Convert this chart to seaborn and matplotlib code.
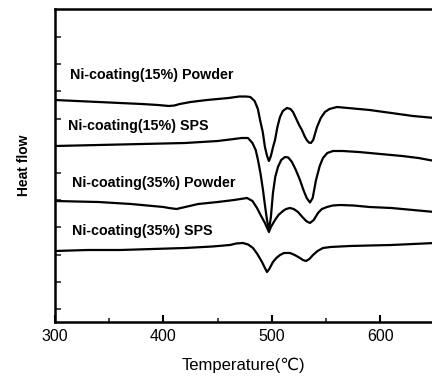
import numpy as np
import pandas as pd
import matplotlib
matplotlib.use("Agg")
import matplotlib.pyplot as plt
import seaborn as sns

# ---- data (heat flow in arbitrary units) ----
t_p15 = [300, 320, 340, 360, 380, 395, 400, 405, 410, 415, 425, 440, 460, 470, 476, 480,
         484, 487, 489, 491.5, 493.5, 495.5, 497.2, 499, 501, 502.8, 505, 507.4, 510, 513.8,
         517, 519.4, 522, 525, 527.6, 530, 532, 534, 535.9, 538, 541.5, 545, 548.8, 553,
         559.9, 570, 590, 610, 630, 650]
h_p15 = [222, 221, 220, 219, 218, 217, 216.5, 216, 216.5, 218, 220, 222, 224, 225.5, 225.5, 225,
         221, 213, 202, 190, 175, 166, 161, 166, 175, 182, 195, 205, 211, 214,
         213, 210, 204, 197, 192, 186, 182, 179.5, 179, 182, 195, 204, 210, 213,
         215, 214, 212, 209, 206, 204]

t_s15 = [300, 340, 380, 420, 450, 465, 472, 477.9, 482, 485, 487.1, 489.5, 491.7, 493.5, 495.4,
         497.2, 499, 500.9, 503, 505.5, 508.5, 512, 515, 518.4, 522, 525.8, 529, 532, 535,
         537.5, 540.6, 544, 547, 551, 556.2, 565, 580, 600, 620, 635, 650]
h_s15 = [176, 177, 178, 179, 181, 183, 184, 184, 179, 172, 162, 148, 132, 117, 102,
         92, 105, 129, 145, 155, 162, 165, 164.5, 160, 152, 142, 132, 124, 119.5,
         124, 142, 156, 164, 169, 171, 171, 170, 168, 166, 164, 161]

t_p35 = [300, 340, 370, 390, 400, 405, 412, 420, 432, 450, 465, 477, 482, 486.2, 490, 493.5,
         495.5, 497.2, 499, 502.8, 506, 510.1, 513, 516.6, 520, 524, 528, 531.5, 535, 538.5,
         542.4, 546, 550.7, 556, 562.7, 575, 590, 610, 630, 650]
h_p35 = [121, 120, 118, 116, 115, 114, 113, 115, 118, 120, 122, 124, 121, 114, 106, 99,
         94, 90, 95, 102, 107, 111, 113, 114, 113, 110, 105, 101, 99, 102,
         109, 113, 115, 116.5, 117, 116.5, 115, 114, 112, 110]

t_s35 = [300, 330, 360, 390, 420, 445, 461.3, 467, 473.3, 478, 482.5, 486.5, 490.8, 493.5,
         495.4, 497.5, 500.9, 504, 507.4, 511, 516.6, 521, 525.8, 528.5, 531.3, 534.5, 537.8,
         542, 547, 554, 562.7, 571.9, 590, 610, 630, 650]
h_s35 = [71, 72, 72, 73, 74, 75.5, 77, 78.5, 79, 77.5, 74, 68, 60, 54,
         50, 53, 60, 64, 67, 69, 69, 67, 64, 62, 61, 63, 67,
         71, 74, 75, 75.5, 76, 76.5, 77, 78, 79]

labels = ["Ni-coating(15%) Powder", "Ni-coating(15%) SPS",
          "Ni-coating(35%) Powder", "Ni-coating(35%) SPS"]
x_ticks = [300, 400, 500, 600]

series = [(t_p15, h_p15), (t_s15, h_s15), (t_p35, h_p35), (t_s35, h_s35)]

sns.set_theme(style="ticks")
plt.rcParams['font.family'] = ['Liberation Sans', 'DejaVu Sans']

fig = plt.figure(figsize=(4.32, 3.76), dpi=100)
ax = fig.add_axes([55/432, 1 - 322/376, 1 - 55/432, (322 - 9)/376])

for (t, h), lab in zip(series, labels):
    df = pd.DataFrame({"T": t, "H": h})
    sns.lineplot(data=df, x="T", y="H", ax=ax, color="black", lw=1.6, sort=False)

# curve labels
label_pos = [(313.8, 247), (312, 196), (315.6, 139), (315.6, 91)]
for lab, (x, y) in zip(labels, label_pos):
    ax.text(x, y, lab, fontsize=10.3, fontweight="bold", ha="left", va="center", color="black")

ax.set_xlim(300, 647.5)
ax.set_ylim(0, 313)
ax.set_xticks(x_ticks)
ax.set_xticks([350, 450, 550], minor=True)
ax.set_yticks([13 + 27.2 * k for k in range(11)])
ax.set_yticklabels([])
ax.tick_params(axis="x", which="major", direction="in", length=5, width=1.5, labelsize=11.5, colors="black", pad=5)
ax.tick_params(axis="x", which="minor", direction="in", length=3, width=1.2)
ax.tick_params(axis="y", direction="in", length=4, width=1.2)
for s in ["left", "bottom", "top"]:
    ax.spines[s].set_linewidth(1.8)
    ax.spines[s].set_color("black")
ax.spines["right"].set_visible(False)

ax.set_xlabel("Temperature(\u2103)", fontsize=12, color="black", labelpad=10)
ax.set_ylabel("Heat flow", fontsize=10, fontweight="bold", color="black", labelpad=14)

fig.savefig("out.png", dpi=100)
